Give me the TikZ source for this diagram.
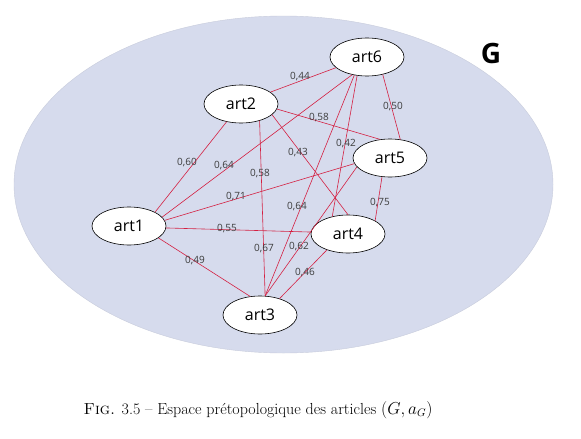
\documentclass[tikz,border=0pt]{standalone}
\usepackage{fontspec}
\usepackage{amsmath}
\newfontfamily\nodefont{Open Sans}
\newfontfamily\gfont{Open Sans}
\definecolor{bgblue}{RGB}{214,219,237}
\definecolor{bgedge}{RGB}{200,204,220}
\definecolor{edgered}{RGB}{212,32,66}
\definecolor{lblgray}{RGB}{60,60,60}
\usetikzlibrary{shapes.geometric}
\tikzset{
  art/.style={ellipse, draw=black, line width=0.6pt, fill=white, minimum width=74pt, minimum height=38pt, inner sep=0pt, font=\nodefont\fontsize{16}{18}\selectfont},
  link/.style={draw=edgered, line width=0.6pt},
  wt/.style={font=\nodefont\fontsize{10}{11}\selectfont, text=lblgray, inner sep=0pt}
}
\begin{document}
\begin{tikzpicture}[x=1pt,y=-1pt]
\useasboundingbox (0,0) rectangle (581,439);
\fill[white] (0,0) rectangle (581,439);
\node[ellipse, fill=bgblue, draw=bgedge, line width=0.4pt, minimum width=539pt, minimum height=337pt, inner sep=0pt] (G) at (283.5,184.5) {};
\node[font=\gfont\bfseries\fontsize{28}{30}\selectfont, inner sep=0pt] (Glabel) at (491,53) {G};

\node[art] (art6) at (367,57) {art6};
\node[art] (art2) at (241,104) {art2};
\node[art] (art5) at (390,158) {art5};
\node[art] (art1) at (129,226) {art1};
\node[art] (art4) at (348,234) {art4};
\node[art] (art3) at (260,315) {art3};

\draw[link] (art6.-161) -- (art2.22);
\draw[link] (art6.-48) -- (art5.61);
\draw[link] (art2.-8) -- (art5.118);
\draw[link] (art2.-129) -- (art1.28);
\draw[link] (art6.-130) -- (art1.15);
\draw[link] (art2.-42) -- (art3.75);
\draw[link] (art2.-19) -- (art4.90);
\draw[link] (art6.-118) -- (art4.132);
\draw[link] (art6.-125) -- (art3.75);
\draw[link] (art1.9) -- (art5.189);
\draw[link] (art1.-3) -- (art4.177);
\draw[link] (art5.-165) -- (art3.75);
\draw[link] (art5.-113) -- (art4.26);
\draw[link] (art1.-22) -- (art3.118);
\draw[link] (art4.-143) -- (art3.40);

\node[wt] (w1) at (300,77) {0,44};
\node[wt] (w2) at (393,107) {0,50};
\node[wt] (w3) at (319,118) {0,58};
\node[wt] (w4) at (187,163) {0,60};
\node[wt] (w5) at (224,166) {0,64};
\node[wt] (w6) at (260,174) {0,58};
\node[wt] (w7) at (298,153) {0,43};
\node[wt] (w8) at (346,144) {0,42};
\node[wt] (w9) at (236,197) {0,71};
\node[wt] (w10) at (297,207) {0,64};
\node[wt] (w11) at (227,229) {0,55};
\node[wt] (w12) at (299,247) {0,62};
\node[wt] (w13) at (380,203) {0,75};
\node[wt] (w14) at (195,261) {0,49};
\node[wt] (w15) at (264,249) {0,67};
\node[wt] (w16) at (305,273) {0,46};

\node[font=\fontsize{16}{19}\selectfont, inner sep=0pt] (cap) at (258,410) {\textsc{Fig.} 3.5 -- Espace prétopologique des articles $(G,a_G)$};
\end{tikzpicture}
\end{document}
